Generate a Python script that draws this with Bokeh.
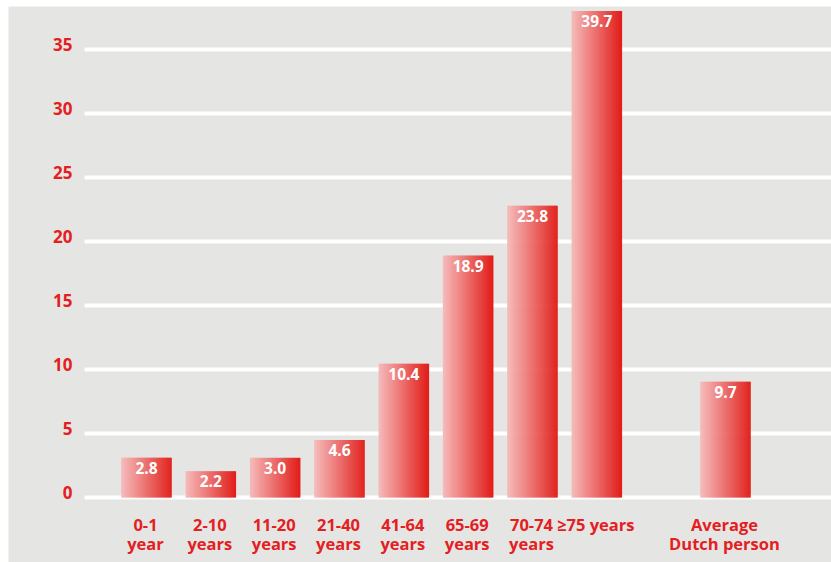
import numpy as np
from bokeh.plotting import figure
from bokeh.models import ColumnDataSource, FixedTicker, Range1d
from bokeh.core.properties import value
from bokeh.embed import file_html
from bokeh.resources import INLINE

# ---- data ----
label_line1 = ["0-1", "2-10", "11-20", "21-40", "41-64", "65-69", "70-74", "\u226575 years", "Average"]
label_line2 = ["year", "years", "years", "years", "years", "years", "years", "", "Dutch person"]
positions = [0, 1, 2, 3, 4, 5, 6, 7, 9]
value_labels = ["2.8", "2.2", "3.0", "4.6", "10.4", "18.9", "23.8", "39.7", "9.7"]
bar_heights = [3.1, 2.05, 3.1, 4.5, 10.45, 18.9, 22.8, 38.0, 9.05]
y_ticks = [0, 5, 10, 15, 20, 25, 30, 35]

RED = "#e3201f"
GRAY = "#e5e6e3"
FONT = "Open Sans"

X0, X1 = -2.145, 10.648
GRID_X0 = -0.964

p = figure(width=831, height=562, output_backend="svg", toolbar_location=None,
           x_range=Range1d(X0, X1), y_range=Range1d(-5.078, 38.36),
           min_border_left=8, min_border_right=0, min_border_top=6, min_border_bottom=0)
p.background_fill_color = GRAY
p.border_fill_color = "white"
p.outline_line_color = None
p.xaxis.visible = False
p.yaxis.visible = False
p.xgrid.grid_line_color = None
p.ygrid.ticker = FixedTicker(ticks=y_ticks)
p.ygrid.grid_line_color = "white"
p.ygrid.grid_line_width = 4
p.ygrid.cross_bounds = (GRID_X0, X1)

# gradient bars made of thin vertical slices
N = 50
bw = 0.777
c_left = np.array([246, 188, 188])
c_right = np.array([226, 30, 26])
xs, tops, cols = [], [], []
for pos, h in zip(positions, bar_heights):
    for k in range(N):
        t = (k + 0.5) / N
        xs.append(pos - bw / 2 + t * bw)
        tops.append(h)
        c = (c_left * (1 - t) + c_right * t).astype(int)
        cols.append("#%02x%02x%02x" % tuple(c))
src = ColumnDataSource(dict(x=xs, top=tops, color=cols))
p.vbar(x="x", top="top", bottom=0, width=bw / N * 1.6, fill_color="color",
       line_color=None, source=src)

# value labels
vsrc = ColumnDataSource(dict(x=positions, y=bar_heights, t=value_labels))
p.text(x="x", y="y", text="t", source=vsrc, text_color="white", text_font=value(FONT),
       text_font_style="bold", text_font_size="15.5px", text_align="center",
       text_baseline="middle", y_offset=10)

# y tick labels
ysrc = ColumnDataSource(dict(x=[GRID_X0] * len(y_ticks), y=y_ticks, t=[str(v) for v in y_ticks]))
p.text(x="x", y="y", text="t", source=ysrc, text_color=RED, text_font=value(FONT),
       text_font_style="bold", text_font_size="17px", text_align="right",
       text_baseline="middle", x_offset=-12, y_offset=-5)

# category labels (two lines)
csrc = ColumnDataSource(dict(x=positions, y=[0] * len(positions), l1=label_line1, l2=label_line2))
for col, off in (("l1", 27), ("l2", 46)):
    p.text(x="x", y="y", text=col, source=csrc, text_color=RED, text_font=value(FONT),
           text_font_style="bold", text_font_size="16.5px", text_align="center",
           text_baseline="middle", y_offset=off, x_offset=-1)

open("out.html", "w").write(file_html(p, INLINE))
